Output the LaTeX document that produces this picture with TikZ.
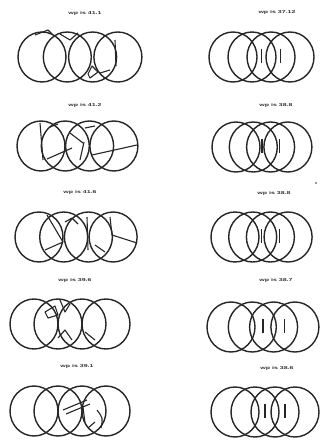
\documentclass[tikz,border=0pt]{standalone}
\usepackage{fontspec}
\setmainfont{Liberation Sans}
\begin{document}
\begin{tikzpicture}[x=1pt,y=-1pt,
  bub/.style={draw=black!85,line width=1.4pt},
  wall/.style={draw=black!85,line width=1.1pt,line join=round},
  lab/.style={font=\fontsize{7}{7}\selectfont\bfseries,text=black!80,inner sep=0pt,yscale=0.6}]
\useasboundingbox[fill=white] (0,0) rectangle (328,444);
% ---------- labels ----------
\node[lab] (l1) at (85,13) {wp is 41.1};
\node[lab] (l2) at (85,105) {wp is 41.2};
\node[lab] (l3) at (80,192) {wp is 41.6};
\node[lab] (l4) at (75,280) {wp is 39.6};
\node[lab] (l5) at (77,366) {wp is 39.1};
\node[lab] (r1) at (277,12) {wp is 37.12};
\node[lab] (r2) at (276,105) {wp is 38.8};
\node[lab] (r3) at (274,193) {wp is 38.8};
\node[lab] (r4) at (276,280) {wp is 38.7};
\node[lab] (r5) at (277,368) {wp is 38.6};
\fill[black!80] (316,183) circle (0.9);
% ---------- left column: bubbles ----------
\foreach \xl/\cy/\s in {18/57/25.3, 17/146/24.3, 15/237/24.7, 10/324/24, 10/411/24}{
  \foreach \i in {0,1,2,3}{
    \draw[bub] ({\xl+24+\i*\s},\cy) ellipse (24 and 25);
  }
}
% ---------- right column: bubbles ----------
\foreach \xl/\cy/\s in {209/57/19, 212/147/17.3, 211/237/17.7, 207/327/21.3, 211/412/20}{
  \foreach \i in {0,1,2,3}{
    \draw[bub] ({\xl+24+\i*\s},\cy) ellipse (24 and 25);
  }
  \foreach \i in {1,2}{
    \draw[wall] ({\xl+24+\i*\s+\s/2},\cy-8) -- ({\xl+24+\i*\s+\s/2},\cy+6);
  }
}
% ---------- left column: broken walls ----------
% row 1
\draw[wall] (115,40) -- (116,66);
\draw[wall] (60,34) -- (70,40) -- (78,33);
\draw[wall] (88,74) -- (92,66) -- (98,72) -- (90,78) -- cycle;
\draw[wall] (100,73) -- (110,70);
\draw[wall] (35,35) -- (48,30) -- (52,34);
% row 2
\draw[wall] (40,123) -- (43,160);
\draw[wall] (47,159) -- (72,148);
\draw[wall] (92,155) -- (137,145);
\draw[wall] (70,133) -- (83,143);
\draw[wall] (84,142) -- (80,160);
\draw[wall] (50,127) -- (58,124);
\draw[wall] (85,128) -- (95,126);
% row 3
\draw[wall] (47,215) -- (63,242);
\draw[wall] (45,250) -- (63,242);
\draw[wall] (87,217) -- (88,250);
\draw[wall] (110,217) -- (112,235) -- (137,243);
\draw[wall] (65,222) -- (72,218) -- (78,224);
\draw[wall] (95,245) -- (105,252);
% row 4
\draw[wall] (45,312) -- (55,306) -- (58,315) -- (48,318) -- cycle;
\draw[wall] (60,300) -- (65,312) -- (70,304);
\draw[wall] (58,338) -- (65,330) -- (72,340);
\draw[wall] (85,332) -- (95,340);
% row 5
\draw[wall] (63,410) -- (87,400);
\draw[wall] (66,414) -- (90,404);
\draw[wall] (83,407) -- (85,423);
\draw[wall] (97,410) .. controls (103,418) .. (101,428);
\draw[wall] (88,428) -- (95,422);
\end{tikzpicture}
\end{document}
